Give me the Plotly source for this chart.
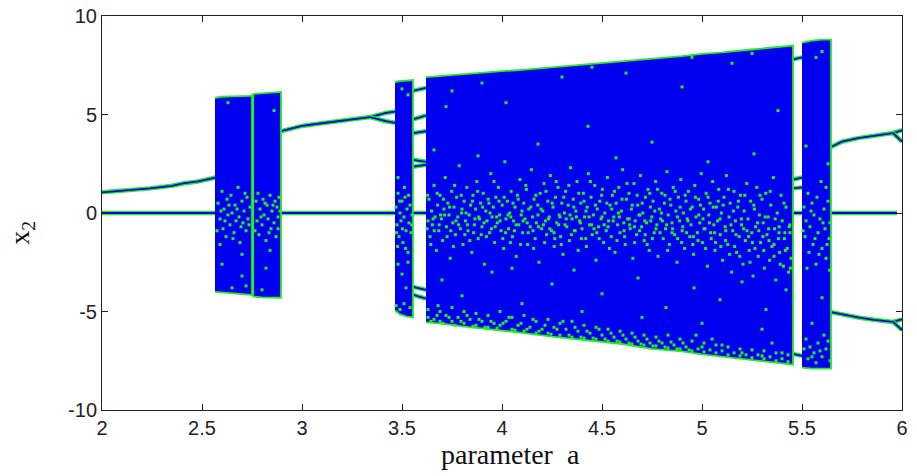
import plotly.graph_objects as go

BLUE = "#0000f0"
GREEN = "#22ee22"

# ---------------- data ----------------
# fixed point x2 = 0
zero_a = [2.0, 5.975]
zero_x = [0.0, 0.0]

# period-1 branch before the first chaotic band
p1_a = [2.0, 2.1, 2.24, 2.35, 2.405, 2.48, 2.555, 2.568]
p1_x = [1.05, 1.12, 1.25, 1.38, 1.5, 1.6, 1.75, 1.8]

# branch after first chaotic band, with period doubling
p2_a = [2.895, 2.95, 3.0, 3.08, 3.155, 3.23, 3.305, 3.34]
p2_x = [4.15, 4.3, 4.42, 4.53, 4.63, 4.74, 4.84, 4.87]
p2u_a = [3.34, 3.38, 3.42, 3.465]
p2u_x = [4.87, 4.98, 5.08, 5.15]
p2l_a = [3.34, 3.38, 3.42, 3.465]
p2l_x = [4.87, 4.75, 4.66, 4.58]

# periodic window between 3.555 and 3.62
win1_a = [3.555, 3.62]
win1_x = [[6.2, 6.35], [4.75, 4.95], [4.05, 4.15], [2.7, 2.6],
          [2.35, 2.45], [-3.75, -3.9], [-4.15, -4.35]]

# periodic window between 5.455 and 5.5
win2_a = [5.455, 5.5]
win2_x = [[7.8, 7.9], [1.7, 1.8], [1.25, 1.3], [-7.15, -7.25]]

# branches after the last chaotic band
p3u_a = [5.645, 5.7, 5.78, 5.86, 5.955]
p3u_x = [3.35, 3.62, 3.8, 3.93, 4.06]
p3uu_a = [5.955, 5.98, 6.0]
p3uu_x = [4.06, 4.15, 4.2]
p3ul_a = [5.955, 5.98, 6.0]
p3ul_x = [4.06, 3.8, 3.62]
p3l_a = [5.645, 5.7, 5.78, 5.86, 5.955]
p3l_x = [-5.03, -5.15, -5.3, -5.42, -5.53]
p3lu_a = [5.955, 5.98, 6.0]
p3lu_x = [-5.53, -5.45, -5.4]
p3ll_a = [5.955, 5.98, 6.0]
p3ll_x = [-5.53, -5.78, -5.94]

# chaotic bands: parameter, upper and lower envelope
band1_a = [2.565, 2.6, 2.65, 2.7, 2.745, 2.76, 2.8, 2.85, 2.895]
band1_top = [5.85, 5.9, 5.92, 5.95, 5.95, 6.05, 6.08, 6.12, 6.15]
band1_bot = [-4.0, -4.05, -4.08, -4.12, -4.15, -4.25, -4.28, -4.3, -4.3]

band2_a = [3.465, 3.49, 3.52, 3.555]
band2_top = [6.65, 6.7, 6.72, 6.75]
band2_bot = [-4.95, -5.15, -5.25, -5.3]

band3_a = [3.62, 3.7, 3.8, 3.9, 4.0, 4.1, 4.25, 4.4, 4.5, 4.6, 4.75, 4.9, 5.0, 5.1, 5.25, 5.35, 5.455]
band3_top = [6.9, 6.97, 7.03, 7.12, 7.2, 7.27, 7.4, 7.52, 7.63, 7.7, 7.86, 7.96, 8.08, 8.15, 8.3, 8.4, 8.5]
band3_bot = [-5.55, -5.62, -5.75, -5.85, -5.98, -6.08, -6.28, -6.42, -6.55, -6.65, -6.9, -7.02, -7.18, -7.27, -7.45, -7.58, -7.7]

band4_a = [5.5, 5.55, 5.6, 5.645]
band4_top = [8.65, 8.75, 8.8, 8.8]
band4_bot = [-7.85, -7.9, -7.9, -7.9]

# periodic window inside the first band
win0_a = [2.753, 2.753]
win0_x = [-4.22, 6.02]

# isolated points visible inside the bands
dots_band1 = [(2.58,0.5),(2.59,-0.3),(2.6,1.1),(2.605,-0.8),(2.61,0.2),(2.62,-1.2),(2.625,0.7),(2.63,-0.1),(2.64,-0.6),(2.645,0.9),(2.65,0.0),(2.66,-1.0),(2.665,0.4),(2.67,-0.4),(2.68,1.3),(2.685,-0.2),(2.69,-1.5),(2.70,0.6),(2.705,-0.5),(2.71,0.1),(2.72,-0.9),(2.725,0.8),(2.73,-0.3),(2.74,0.3),(2.77,0.6),(2.775,-0.4),(2.78,1.0),(2.785,-1.1),(2.79,0.2),(2.8,-0.6),(2.805,0.7),(2.81,-0.1),(2.82,-1.4),(2.825,0.4),(2.83,-0.3),(2.84,0.9),(2.845,-0.8),(2.85,0.1),(2.86,-0.5),(2.865,0.6),(2.87,-1.2),(2.875,0.3),(2.88,-0.2),(2.885,0.8),(2.6,-2.6),(2.7,-2.1),(2.82,-2.8),(2.65,-3.8),(2.72,-3.7),(2.8,-3.9),(2.63,5.6),(2.86,5.2),(2.7,-3.2),(2.84,-1.9),(2.59,-1.6),
    (2.575,-0.9),(2.595,0.1),(2.615,-0.4),(2.635,0.4),(2.655,-1.3),(2.675,0.2),(2.695,-0.7),(2.715,1.0),(2.735,-0.6),(2.765,-0.9),(2.795,-0.2),(2.815,0.5),(2.835,-1.0),(2.855,0.4),(2.88,-0.8),(2.89,0.1)]

dots_band2 = [(3.47,0.3),(3.475,-0.6),(3.48,1.0),(3.485,-1.2),(3.49,0.0),(3.495,-0.4),(3.5,0.6),(3.505,-1.5),(3.51,-0.2),(3.515,0.8),(3.52,-0.9),(3.525,0.2),(3.53,-2.0),(3.535,-0.5),(3.54,0.4),(3.545,-1.0),(3.55,-0.1),(3.48,-2.6),(3.5,-3.1),(3.53,-2.5),(3.47,-4.7),(3.49,-4.9),(3.51,-4.6),(3.54,-4.8),(3.5,6.3),(3.53,6.0),(3.48,1.8),(3.52,-3.8),
    (3.472,-1.0),(3.488,0.6),(3.502,-0.8),(3.518,-1.8),(3.533,0.9),(3.548,-0.6),(3.478,-1.7),(3.512,1.3)]

dots_band3_mid = [(3.63,-0.4),(3.635,0.7),(3.64,-1.2),(3.648,0.1),(3.652,-0.6),(3.66,1.4),(3.665,-0.2),(3.672,-1.9),(3.678,0.4),(3.684,-0.9),(3.69,0.9),(3.697,-0.3),(3.703,-1.4),(3.71,0.2),(3.716,1.8),(3.722,-0.7),(3.729,0.5),(3.735,-0.1),(3.741,-2.3),(3.748,1.1),(3.754,-0.5),(3.76,0.3),(3.767,-1.1),(3.773,0.8),(3.779,-0.2),(3.786,2.4),(3.792,-0.8),(3.798,0.0),(3.805,-1.6),(3.811,0.6),(3.817,-0.4),(3.824,1.3),(3.83,-0.9),(3.836,-0.1),(3.843,0.4),(3.849,-2.0),(3.855,0.9),(3.862,-0.6),(3.868,0.2),(3.874,1.6),(3.881,-1.3),(3.887,-0.3),(3.893,0.5),(3.9,-0.7),(3.906,1.0),(3.912,-2.6),(3.919,0.1),(3.925,-0.4),(3.931,0.7),(3.938,-1.0),(3.944,2.0),(3.95,-0.2),(3.957,0.3),(3.963,-1.5),(3.969,0.8),(3.976,-0.5),(3.982,1.3),(3.988,-0.1),(3.995,-0.9),(4.001,0.4),(4.008,-1.8),(4.014,2.6),(4.02,-0.3),(4.027,0.6),(4.033,-0.8),(4.039,0.0),(4.046,1.1),(4.052,-1.2),(4.058,-0.4),(4.065,0.3),(4.071,-2.2),(4.077,0.9),(4.084,-0.6),(4.09,1.7),(4.096,-0.1),(4.103,-1.0),(4.109,0.5),(4.115,-0.3),(4.122,1.2),(4.128,-1.6),(4.134,0.2),(4.141,-0.7),(4.147,2.2),(4.153,-0.2),(4.16,0.7),(4.166,-1.3),(4.172,-0.5),(4.179,0.4),(4.185,-2.5),(4.191,1.0),(4.198,-0.8),(4.204,0.1),(4.21,1.5),(4.217,-0.4),(4.223,-1.1),(4.229,0.6),(4.236,-0.2),(4.242,1.9),(4.248,-0.9),(4.255,0.3),(4.261,-1.7),(4.267,0.8),(4.274,-0.5),(4.28,1.3),(4.286,-0.1),(4.293,-1.2),(4.299,0.5),(4.305,-2.1),(4.312,0.0),(4.318,1.1),(4.324,-0.7),(4.331,0.4),(4.337,-1.4),(4.343,2.3),(4.35,-0.3),(4.356,0.7),(4.362,-0.9),(4.369,0.1),(4.375,1.6),(4.381,-1.9),(4.388,-0.4),(4.394,0.5),(4.4,-0.8),(4.407,1.0),(4.413,-0.2),(4.419,-1.3),(4.426,0.3),(4.432,2.0),(4.438,-0.6),(4.445,0.8),(4.451,-1.1),(4.457,-0.1),(4.464,1.4),(4.47,-2.4),(4.476,0.2),(4.483,-0.7),(4.489,0.6),(4.495,-0.3),(4.502,1.2),(4.508,-1.5),(4.514,0.0),(4.521,-0.9),(4.527,1.8),(4.533,-0.4),(4.54,0.4),(4.546,-1.2),(4.552,0.9),(4.559,-0.2),(4.565,-2.0),(4.571,0.5),(4.578,-0.6),(4.584,1.3),(4.59,-1.0),(4.597,0.1),(4.603,2.2),(4.609,-0.5),(4.616,-1.6),(4.622,0.7),(4.628,-0.3),(4.635,1.0),(4.641,-0.8),(4.647,0.2),(4.654,-2.3),(4.66,1.5),(4.666,-0.4),(4.673,-1.1),(4.679,0.4),(4.685,-0.1),(4.692,1.9),(4.698,-0.7),(4.704,0.0),(4.711,-1.4),(4.717,0.8),(4.723,-0.5),(4.73,1.2),(4.736,-1.9),(4.742,0.3),(4.749,-0.2),(4.755,0.6),(4.761,-1.0),(4.768,1.6),(4.774,-0.6),(4.78,-2.2),(4.787,0.2),(4.793,-0.3),(4.799,1.0),(4.806,-1.3),(4.812,0.5),(4.818,-0.8),(4.825,2.1),(4.831,-0.1),(4.837,-1.6),(4.844,0.4),(4.85,-0.5),(4.856,1.3),(4.863,-1.1),(4.869,0.1),(4.875,-2.5),(4.882,0.8),(4.888,-0.4),(4.894,1.7),(4.901,-0.9),(4.907,0.0),(4.913,-1.8),(4.92,0.6),(4.926,-0.3),(4.932,1.1),(4.939,-1.2),(4.945,-0.6),(4.951,0.3),(4.958,-2.1),(4.964,1.4),(4.97,-0.2),(4.977,-1.0),(4.983,0.7),(4.989,-0.5),(4.996,2.0),(5.002,-1.5),(5.008,0.2),(5.015,-0.8),(5.021,1.0),(5.027,-2.7),(5.034,-0.1),(5.04,0.5),(5.046,-1.3),(5.053,1.6),(5.059,-0.6),(5.065,-1.9),(5.072,0.3),(5.078,-0.4),(5.084,1.2),(5.091,-1.1),(5.097,0.0),(5.103,-2.4),(5.11,0.8),(5.116,-0.7),(5.122,1.9),(5.129,-1.6),(5.135,-0.2),(5.141,0.5),(5.148,-3.0),(5.154,-0.9),(5.16,1.1),(5.167,-0.4),(5.173,-2.0),(5.179,0.3),(5.186,-1.2),(5.192,0.9),(5.198,-0.6),(5.205,-2.6),(5.211,0.1),(5.217,-1.4),(5.224,1.5),(5.23,-0.3),(5.236,-1.9),(5.243,0.6),(5.249,-1.0),(5.255,-3.2),(5.262,0.2),(5.268,-0.7),(5.274,1.3),(5.281,-2.2),(5.287,-0.1),(5.293,-1.5),(5.3,0.7),(5.306,-0.5),(5.312,-2.8),(5.319,1.0),(5.325,-1.1),(5.331,-0.2),(5.338,-2.4),(5.344,0.4),(5.35,-1.7),(5.357,1.8),(5.363,-0.8),(5.369,-3.4),(5.376,0.0),(5.382,-1.3),(5.388,-2.0),(5.395,0.9),(5.401,-0.4),(5.407,-2.7),(5.414,-1.0),(5.42,0.3),(5.426,-1.8),(5.433,-3.0),(5.439,-0.6),(5.445,-2.3),
    (3.625,-0.8),(3.655,-0.3),(3.686,-0.6),(3.713,-0.1),(3.744,-0.9),(3.77,-0.4),(3.8,0.2),(3.827,-0.6),(3.858,-1.0),(3.884,-0.2),(3.91,-0.5),(3.94,0.0),(3.966,-0.7),(3.99,-0.4),(4.018,-1.0),(4.044,-0.2),(4.07,-0.6),(4.1,0.1),(4.126,-0.5),(4.155,-0.9),(4.18,-0.1),(4.207,-0.6),(4.233,-0.3),(4.26,-1.0),(4.29,-0.2),(4.315,-0.6),(4.34,-0.1),(4.366,-0.9),(4.392,-0.5),(4.42,0.1),(4.448,-0.6),(4.474,-1.0),(4.5,-0.2),(4.53,-0.7),(4.556,-0.4),(4.582,0.0),(4.61,-0.9),(4.636,-0.3),(4.662,-0.7),(4.69,-0.1),(4.716,-1.1),(4.744,-0.4),(4.77,-0.8),(4.797,0.0),(4.823,-0.6),(4.85,-1.0),(4.877,-0.2),(4.904,-0.7),(4.93,-0.4),(4.957,-1.2),(4.984,-0.1),(5.01,-0.8),(5.037,-0.5),(5.063,-1.0),(5.09,-0.3),(5.118,-1.4),(5.145,-0.6),(5.17,-1.1),(5.197,-0.3),(5.225,-0.9),(5.252,-1.5),(5.278,-0.5),(5.305,-1.2),(5.333,-0.8),(5.36,-1.6),(5.386,-0.7),(5.412,-1.3),(5.44,-1.0),
    (3.628,0.9),(3.644,-1.6),(3.661,-0.9),(3.676,1.0),(3.693,-0.1),(3.707,0.7),(3.725,-1.2),(3.738,0.3),(3.757,-1.7),(3.763,1.4),(3.783,-0.6),(3.796,0.9),(3.814,-1.1),(3.82,0.0),(3.839,-1.4),(3.852,0.6),(3.865,-0.3),(3.878,1.1),(3.896,-1.1),(3.903,0.3),(3.922,-1.2),(3.935,0.5),(3.947,-0.8),(3.96,1.6),(3.973,-0.2),(3.985,0.6),(4.004,-1.3),(4.011,0.8),(4.03,-0.1),(4.042,-1.5),(4.055,0.5),(4.062,-0.9),(4.081,0.7),(4.093,-1.6),(4.106,-0.4),(4.119,1.4),(4.131,-1.0),(4.144,0.3),(4.158,-1.8),(4.169,0.9),(4.182,-0.7),(4.195,0.2),(4.213,-1.5),(4.22,1.1),(4.239,-0.8),(4.251,0.5),(4.264,-1.3),(4.271,1.6),(4.283,-0.6),(4.296,-1.6),(4.309,0.8),(4.321,-0.3),(4.334,1.4),(4.347,-1.1),(4.359,0.3),(4.372,-0.2),(4.384,1.0),(4.397,-1.3),(4.41,0.6),(4.422,-1.7),(4.435,-0.2),(4.442,1.6),(4.46,-0.8),(4.467,0.4),(4.486,-1.3),(4.498,0.9),(4.511,-0.6),(4.524,0.5),(4.537,-1.8),(4.549,0.2),(4.562,1.1),(4.575,-1.4),(4.587,-0.2),(4.6,0.7),(4.613,-1.2),(4.625,1.5),(4.638,-0.6),(4.651,0.4),(4.663,-1.5),(4.676,0.9),(4.688,-0.9),(4.701,0.5),(4.714,-0.4),(4.726,-1.6),(4.739,1.0),(4.752,-1.3),(4.764,0.1),(4.777,1.2),(4.79,-1.0),(4.802,-0.4),(4.815,0.9),(4.828,-1.9),(4.84,0.7),(4.853,-0.8),(4.866,1.1),(4.878,-1.3),(4.891,0.3),(4.898,-1.5),(4.916,0.9),(4.923,-1.0),(4.942,0.2),(4.954,-1.6),(4.967,0.8),(4.98,-1.4),(4.992,0.4),(5.005,-0.3),(5.018,-1.8),(5.03,0.8),(5.043,-1.0),(5.056,0.3),(5.068,-1.5),(5.081,0.6),(5.094,-1.7),(5.106,0.4),(5.119,-0.9),(5.132,1.2),(5.138,-2.1),(5.157,0.1),(5.163,-1.7),(5.182,0.6),(5.189,-2.2),(5.208,-0.8),(5.214,0.9),(5.233,-1.2),(5.24,-2.5),(5.259,0.4),(5.265,-1.8),(5.284,-0.9),(5.29,0.9),(5.309,-1.9),(5.316,-0.2),(5.335,-1.4),(5.341,1.1),(5.36,-2.2),(5.366,-0.3),(5.385,-1.0),(5.391,-2.6),(5.41,0.5),(5.417,-1.9),(5.436,-0.7),(5.442,-2.8)]

dots_band3_edge = [(3.63,-5.3),(3.63,-4.9),(3.66,-5.4),(3.69,-5.0),(3.69,-5.5),(3.72,-5.2),(3.75,-5.5),(3.75,-4.8),(3.78,-5.3),(3.81,-5.6),(3.81,-5.0),(3.84,-5.4),(3.87,-5.1),(3.87,-5.7),(3.9,-5.5),(3.93,-5.2),(3.93,-5.8),(3.96,-5.6),(3.99,-5.0),(3.99,-5.7),(4.02,-5.5),(4.05,-5.9),(4.05,-5.3),(4.08,-5.7),(4.11,-5.2),(4.11,-6.0),(4.14,-5.8),(4.17,-5.5),(4.17,-6.1),(4.2,-5.9),(4.23,-5.4),(4.23,-6.1),(4.26,-5.8),(4.29,-6.2),(4.29,-5.6),(4.32,-5.9),(4.35,-6.3),(4.35,-5.5),(4.38,-6.0),(4.41,-5.7),(4.41,-6.35),(4.44,-6.1),(4.47,-6.4),(4.47,-5.8),(4.5,-6.2),(4.53,-5.9),(4.53,-6.5),(4.56,-6.3),(4.59,-6.0),(4.59,-6.55),(4.62,-6.4),(4.65,-6.1),(4.65,-6.65),(4.68,-6.5),(4.71,-6.2),(4.71,-6.7),(4.74,-6.6),(4.77,-6.3),(4.77,-6.75),(4.8,-6.6),(4.83,-6.85),(4.83,-6.2),(4.86,-6.7),(4.89,-6.4),(4.89,-6.9),(4.92,-6.8),(4.95,-6.5),(4.95,-7.0),(4.98,-6.9),(5.01,-6.6),(5.01,-7.05),(5.04,-6.95),(5.07,-6.7),(5.07,-7.1),(5.1,-7.0),(5.13,-6.8),(5.13,-7.2),(5.16,-7.1),(5.19,-6.9),(5.19,-7.25),(5.22,-7.2),(5.25,-6.95),(5.25,-7.35),(5.28,-7.2),(5.31,-7.0),(5.31,-7.4),(5.34,-7.3),(5.37,-7.1),(5.37,-7.5),(5.4,-7.4),(5.43,-7.2),(5.43,-7.55),
    (3.645,-5.5),(3.675,-5.2),(3.705,-5.6),(3.735,-5.3),(3.765,-5.7),(3.795,-5.5),(3.825,-5.2),(3.855,-5.75),(3.885,-5.4),(3.915,-5.8),(3.945,-5.5),(3.975,-5.85),(4.005,-5.6),(4.035,-5.3),(4.065,-5.95),(4.095,-5.6),(4.125,-5.9),(4.155,-5.4),(4.185,-6.0),(4.215,-5.7),(4.245,-6.15),(4.275,-5.9),(4.305,-5.5),(4.335,-6.2),(4.365,-5.8),(4.395,-6.3),(4.425,-6.0),(4.455,-6.35),(4.485,-5.9),(4.515,-6.4),(4.545,-6.1),(4.575,-6.5),(4.605,-6.2),(4.635,-6.6),(4.665,-6.3),(4.695,-6.65),(4.725,-6.4),(4.755,-6.75),(4.785,-6.5),(4.815,-6.8),(4.845,-6.55),(4.875,-6.9),(4.905,-6.6),(4.935,-6.95),(5.0,-6.8),(5.1,-6.7),(5.2,-7.1),(5.3,-7.25),(5.4,-7.1),(5.35,-6.6),(5.05,-6.4),(4.97,-6.2)]

dots_band3_sparse = [(3.66,3.2),(3.7,-3.4),(3.75,6.2),(3.8,-4.2),(3.88,2.9),(3.95,-3.0),(4.02,5.6),(4.1,-4.6),(4.18,3.5),(4.25,-3.6),(4.3,6.9),(4.36,-2.9),(4.43,4.4),(4.5,-4.1),(4.57,2.8),(4.62,7.1),(4.68,-3.3),(4.75,3.6),(4.82,-4.8),(4.9,6.4),(4.96,-3.8),(5.03,2.6),(5.09,-4.4),(5.15,7.6),(5.2,-3.5),(5.26,3.0),(5.32,-4.9),(5.38,5.2),(5.42,-3.9),(3.72,5.4),(4.05,-2.8),(4.4,-5.0),(4.7,-5.3),(5.0,-5.6),(5.3,-5.9),(3.9,6.6),(4.45,7.4),(4.95,7.9),(5.25,8.1),(3.68,-4.7)]

dots_band4 = [(5.51,0.3),(5.515,-1.2),(5.52,-0.4),(5.53,1.0),(5.535,-2.0),(5.54,-0.7),(5.55,0.5),(5.555,-1.6),(5.56,-0.1),(5.57,-2.6),(5.575,0.8),(5.58,-1.0),(5.59,-0.3),(5.595,1.6),(5.6,-1.8),(5.61,0.2),(5.615,-0.8),(5.62,-2.3),(5.63,0.6),(5.635,-1.3),(5.64,-0.5),(5.52,-6.4),(5.54,-6.8),(5.56,-7.1),(5.58,-6.6),(5.6,-7.3),(5.62,-6.9),(5.64,-7.5),(5.53,-7.4),(5.57,-7.6),(5.61,-6.2),(5.55,-5.6),(5.6,-4.3),(5.63,2.5),(5.57,7.9),(5.6,8.2),(5.52,3.4),(5.62,1.3),
    (5.505,-0.9),(5.525,-2.8),(5.545,0.1),(5.565,-1.3),(5.585,-2.1),(5.605,-0.5),(5.625,-1.6),(5.638,-2.9),(5.51,-6.9),(5.55,-7.3),(5.59,-7.0),(5.63,-6.5)]

x_ticks = [2, 2.5, 3, 3.5, 4, 4.5, 5, 5.5, 6]
x_tick_labels = ["2", "2.5", "3", "3.5", "4", "4.5", "5", "5.5", "6"]
y_ticks = [-10, -5, 0, 5, 10]
y_tick_labels = ["-10", "-5", "0", "5", "10"]
x_title = "parameter  a"
y_title = "x<sub>2</sub>"

# ---------------- figure ----------------
fig = go.Figure()


def branch(a, x):
    fig.add_trace(go.Scatter(x=a, y=x, mode="lines", line=dict(color=GREEN, width=4.5),
                             hoverinfo="skip", showlegend=False))
    fig.add_trace(go.Scatter(x=a, y=x, mode="lines", line=dict(color=BLUE, width=1.8),
                             hoverinfo="skip", showlegend=False))


def band(a, top, bot):
    fig.add_trace(go.Scatter(x=list(a) + list(a)[::-1], y=list(top) + list(bot)[::-1],
                             mode="lines", fill="toself", fillcolor=BLUE,
                             line=dict(color=GREEN, width=1.8),
                             hoverinfo="skip", showlegend=False))


branch(zero_a, zero_x)
branch(p1_a, p1_x)
branch(p2_a, p2_x)
branch(p2u_a, p2u_x)
branch(p2l_a, p2l_x)
for xs in win1_x:
    branch(win1_a, xs)
for xs in win2_x:
    branch(win2_a, xs)
for a, x in [(p3u_a, p3u_x), (p3uu_a, p3uu_x), (p3ul_a, p3ul_x),
             (p3l_a, p3l_x), (p3lu_a, p3lu_x), (p3ll_a, p3ll_x)]:
    branch(a, x)

band(band1_a, band1_top, band1_bot)
band(band2_a, band2_top, band2_bot)
band(band3_a, band3_top, band3_bot)
band(band4_a, band4_top, band4_bot)

fig.add_trace(go.Scatter(x=win0_a, y=win0_x, mode="lines", line=dict(color=GREEN, width=3),
                         hoverinfo="skip", showlegend=False))

all_dots = dots_band1 + dots_band2 + dots_band3_mid + dots_band3_edge + dots_band3_sparse + dots_band4
fig.add_trace(go.Scatter(x=[p[0] for p in all_dots], y=[p[1] for p in all_dots], mode="markers",
                         marker=dict(symbol="square", size=3, color=GREEN, line=dict(width=0)),
                         hoverinfo="skip", showlegend=False))

axis_common = dict(showline=True, linecolor="#222222", linewidth=1, mirror="allticks",
                   ticks="inside", ticklen=6, tickcolor="#222222", showgrid=False,
                   zeroline=False, automargin=False,
                   tickfont=dict(family="Liberation Sans, Arial", size=20, color="#222222"))

fig.update_layout(
    width=917, height=476,
    margin=dict(l=102, r=15, t=16, b=66),
    paper_bgcolor="white", plot_bgcolor="white",
    xaxis=dict(range=[2, 6], tickvals=x_ticks, ticktext=x_tick_labels, **axis_common),
    yaxis=dict(range=[-10, 10], tickvals=y_ticks, ticktext=y_tick_labels, **axis_common),
    annotations=[
        dict(text=x_title, xref="paper", yref="paper", x=0.51, y=-0.112,
             xanchor="center", yanchor="middle", showarrow=False,
             font=dict(family="Liberation Serif, Times New Roman", size=28, color="#111111")),
        dict(text=y_title, xref="paper", yref="paper", x=-0.1, y=0.45,
             xanchor="center", yanchor="middle", showarrow=False, textangle=-90,
             font=dict(family="Liberation Serif, Times New Roman", size=28, color="#111111")),
    ],
)

fig.write_html("out.html")
